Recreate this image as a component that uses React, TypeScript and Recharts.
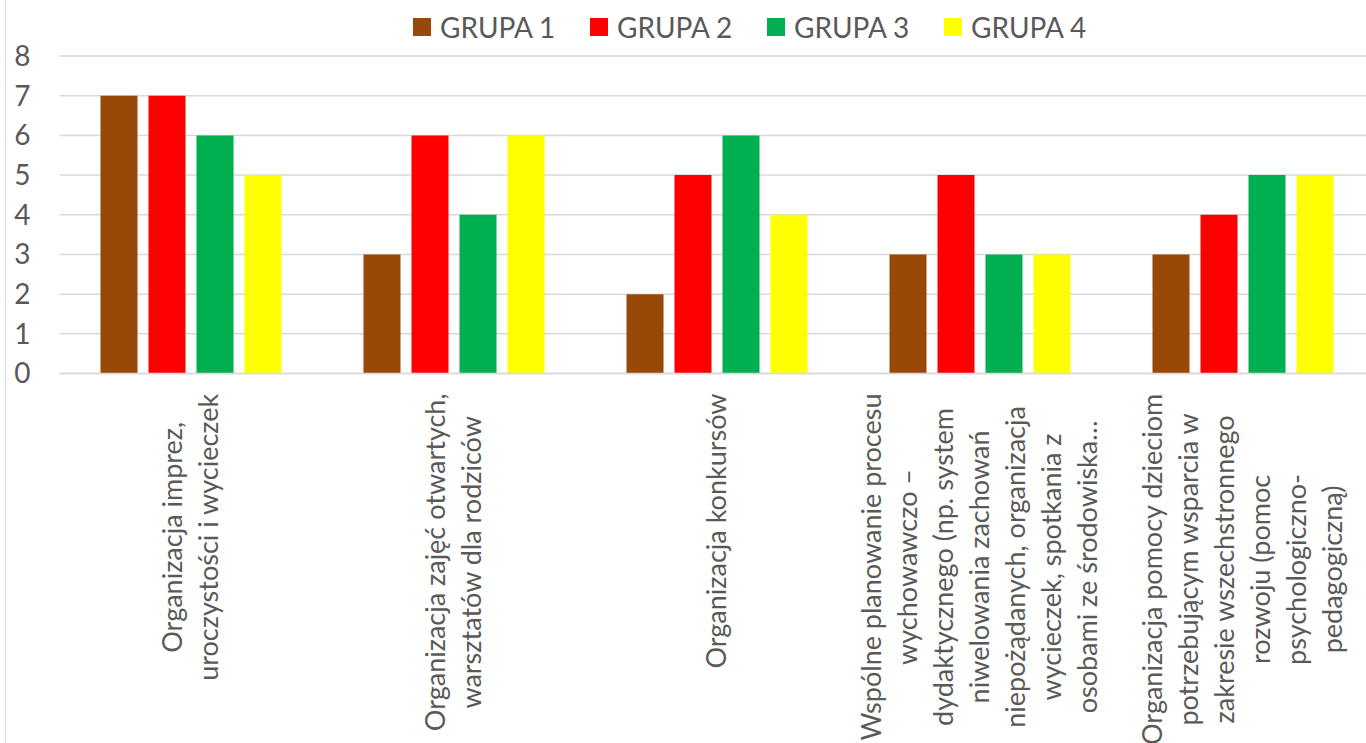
import React from 'react';
import {
  BarChart,
  Bar,
  XAxis,
  YAxis,
  CartesianGrid,
  Legend,
} from 'recharts';

const categories = [
  'Organizacja imprez, uroczystości i wycieczek',
  'Organizacja zajęć otwartych, warsztatów dla rodziców',
  'Organizacja konkursów',
  'Wspólne planowanie procesu wychowawczo – dydaktycznego (np. system niwelowania zachowań niepożądanych, organizacja wycieczek, spotkania z osobami ze środowiska…',
  'Organizacja pomocy dzieciom potrzebującym wsparcia w zakresie wszechstronnego rozwoju (pomoc psychologiczno-pedagogiczną)',
];

const tickLines = [
  ['Organizacja imprez,', 'uroczystości i wycieczek'],
  ['Organizacja zajęć otwartych,', 'warsztatów dla rodziców'],
  ['Organizacja konkursów'],
  [
    'Wspólne planowanie procesu',
    'wychowawczo –',
    'dydaktycznego (np. system',
    'niwelowania zachowań',
    'niepożądanych, organizacja',
    'wycieczek, spotkania z',
    'osobami ze środowiska…',
  ],
  [
    'Organizacja pomocy dzieciom',
    'potrzebującym wsparcia w',
    'zakresie wszechstronnego',
    'rozwoju (pomoc',
    'psychologiczno-',
    'pedagogiczną)',
  ],
];

const grupa1 = [7, 3, 2, 3, 3];
const grupa2 = [7, 6, 5, 5, 4];
const grupa3 = [6, 4, 6, 3, 5];
const grupa4 = [5, 6, 4, 3, 5];

const seriesNames = ['GRUPA 1', 'GRUPA 2', 'GRUPA 3', 'GRUPA 4'];
const seriesKeys = ['g1', 'g2', 'g3', 'g4'];
const COLORS = ['#984807', '#FF0000', '#00B050', '#FFFF00'];
const yTicks = [0, 1, 2, 3, 4, 5, 6, 7, 8];

const data = categories.map((name, i) => ({
  name,
  g1: grupa1[i],
  g2: grupa2[i],
  g3: grupa3[i],
  g4: grupa4[i],
}));

const FONT = 'Lato, "Open Sans", sans-serif';
const FS = 27;
const FS_BIG = 28;
const LH = 36;
const TEXT = '#595959';
const GRID = '#d9d9d9';

let ctx: CanvasRenderingContext2D | null = null;
const textWidth = (s: string) => {
  if (!ctx) ctx = document.createElement('canvas').getContext('2d');
  if (!ctx) return s.length * FS * 0.5;
  ctx.font = `${FS}px Lato`;
  return ctx.measureText(s).width;
};

const CategoryTick = (props: any) => {
  const { x, y, payload } = props;
  const i = categories.indexOf(payload.value);
  const lines = tickLines[i] || [payload.value];
  const maxW = Math.max(...lines.map(textWidth));
  const cx = -(20 + maxW / 2);
  const n = lines.length;
  return (
    <g transform={`translate(${x},${y})`}>
      <text
        transform="rotate(-90)"
        textAnchor="middle"
        fill={TEXT}
        fontSize={FS}
        fontFamily={FONT}
      >
        {lines.map((l, k) => (
          <tspan key={k} x={cx} y={(k - (n - 1) / 2) * LH + FS * 0.35}>
            {l}
          </tspan>
        ))}
      </text>
    </g>
  );
};

const LegendContent = () => (
  <div
    style={{
      height: 40,
      display: 'flex',
      alignItems: 'flex-start',
      paddingLeft: 413,
      fontFamily: FONT,
      fontSize: FS_BIG,
      color: TEXT,
      lineHeight: '22px',
    }}
  >
    {seriesNames.map((s, i) => (
      <div
        key={s}
        style={{ width: 177, display: 'flex', alignItems: 'center' }}
      >
        <span
          style={{
            width: 18,
            height: 18,
            background: COLORS[i],
            marginRight: 9,
            display: 'inline-block',
          }}
        />
        <span>{s}</span>
      </div>
    ))}
  </div>
);

export default function App() {
  return (
    <div
      style={{
        position: 'fixed',
        left: 0,
        top: 0,
        width: 1366,
        height: 743,
        overflow: 'hidden',
        background: '#fff',
      }}
    >
      <div
        style={{
          position: 'absolute',
          left: 5,
          top: 0,
          height: 743,
          borderLeft: `1.5px solid ${GRID}`,
        }}
      />
      <BarChart
        width={1380}
        height={743}
        data={data}
        margin={{ top: 16, right: 5.5, bottom: 9.5, left: 0 }}
        barSize={37}
        barGap={11}
      >
        <CartesianGrid vertical={false} stroke={GRID} strokeWidth={1.5} />
        <XAxis
          dataKey="name"
          interval={0}
          height={360}
          tickLine={false}
          tickSize={0}
          tickMargin={0}
          axisLine={{ stroke: GRID, strokeWidth: 1.5 }}
          tick={<CategoryTick />}
        />
        <YAxis
          width={59.5}
          domain={[0, 8]}
          ticks={yTicks}
          axisLine={false}
          tickLine={false}
          tickSize={0}
          tickMargin={29}
          tick={{ fill: TEXT, fontSize: FS_BIG, fontFamily: FONT }}
        />
        <Legend verticalAlign="top" content={<LegendContent />} />
        {seriesKeys.map((k, i) => (
          <Bar
            key={k}
            dataKey={k}
            name={seriesNames[i]}
            fill={COLORS[i]}
            isAnimationActive={false}
          />
        ))}
      </BarChart>
    </div>
  );
}
